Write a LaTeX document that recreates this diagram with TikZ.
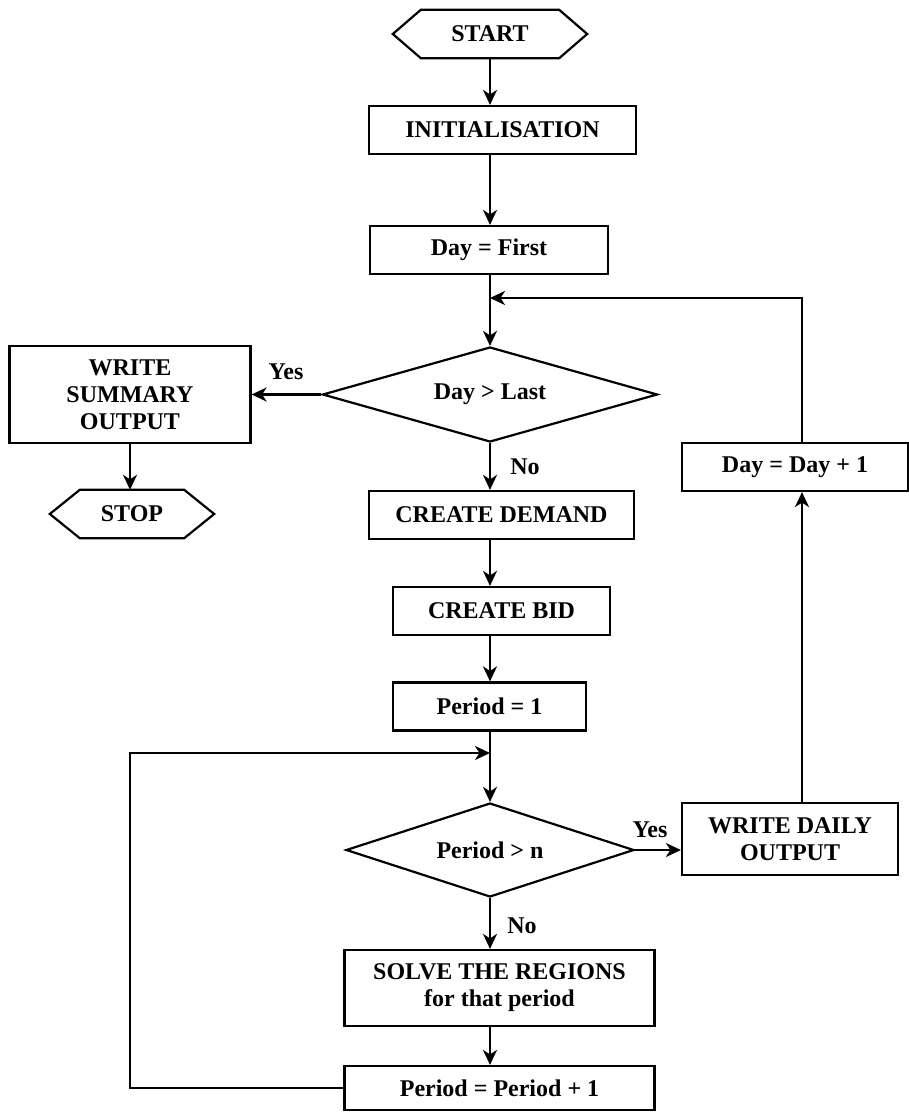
\documentclass[tikz,border=0pt]{standalone}
\usepackage{fontspec}
\setmainfont{Liberation Serif}
\usetikzlibrary{shapes.geometric,arrows.meta}
\tikzset{
  txt/.style={font=\fontsize{24}{27}\selectfont\bfseries, align=center},
  stepbox/.style={txt, draw, line width=2.2pt, rectangle, inner sep=0pt, minimum height=48pt},
  decision/.style={txt, draw, line width=2.2pt, diamond, inner sep=0pt, aspect=3.5},
  hexbase/.style={txt, rectangle, inner sep=0pt, minimum height=48pt},
  hexline/.style={line width=2.2pt, line join=miter},
  conn/.style={line width=2.2pt, -{Stealth[length=15pt,width=14pt,inset=4.5pt]}},
  lbl/.style={txt, inner sep=0pt},
}
\begin{document}
\begin{tikzpicture}[x=1pt,y=-1pt]
\useasboundingbox (0,0) rectangle (909,1112);

% nodes
\node[hexbase, minimum width=138pt] (start) at (490,34) {START};
\draw[hexline] (start.north west) -- (start.north east) -- ([xshift=28pt]start.east) -- (start.south east) -- (start.south west) -- ([xshift=-28pt]start.west) -- cycle;

\node[stepbox, minimum width=267pt] (init) at (502.5,130) {INITIALISATION};
\node[stepbox, minimum width=238pt] (dayfirst) at (489,250) {Day = First};
\node[decision, minimum width=335pt, minimum height=95pt] (daylast) at (490,394.5) {Day > Last};
\node[stepbox, minimum width=241pt, minimum height=97pt] (summary) at (130,394.5) {WRITE\\SUMMARY\\OUTPUT};

\node[hexbase, minimum width=104pt] (stop) at (132,514) {STOP};
\draw[hexline] (stop.north west) -- (stop.north east) -- ([xshift=30pt]stop.east) -- (stop.south east) -- (stop.south west) -- ([xshift=-30pt]stop.west) -- cycle;

\node[stepbox, minimum width=265pt] (demand) at (501.5,515) {CREATE DEMAND};
\node[stepbox, minimum width=217pt] (bid) at (501.5,611) {CREATE BID};
\node[stepbox, minimum width=193pt] (period1) at (489.5,706.5) {Period = 1};
\node[decision, minimum width=288pt, minimum height=94pt] (pern) at (490,850) {Period > n};
\node[stepbox, minimum width=216pt, minimum height=72pt] (daily) at (790,839) {WRITE DAILY\\OUTPUT};
\node[stepbox, minimum width=226pt] (dayplus) at (795,467) {Day = Day + 1};
\node[stepbox, minimum width=310pt, minimum height=76pt] (solve) at (499.5,988) {SOLVE THE REGIONS\\for that period};
\node[stepbox, minimum width=310pt, minimum height=44pt] (pplus) at (499.5,1088) {Period = Period + 1};

% labels
\node[lbl] (yes1) at (286,372) {Yes};
\node[lbl] (no1) at (525,467) {No};
\node[lbl] (yes2) at (650,830) {Yes};
\node[lbl] (no2) at (522,926) {No};

% helper coordinates
\coordinate (main) at (490,0);
\coordinate (rx) at (802,298);
\coordinate (mj) at (490,298);
\coordinate (loopx) at (130,753);
\coordinate (lj) at (490,753);

% connectors
\draw[conn] (start.south) -- (start.south |- init.north);
\draw[conn] (main |- init.south) -- (main |- dayfirst.north);
\draw[conn] (main |- dayfirst.south) -- (main |- daylast.north);
\draw[conn] (daylast.west) -- (summary.east);
\draw[conn] (summary.south) -- (summary.south |- stop.north);
\draw[conn] (daylast.south) -- (main |- demand.north);
\draw[conn] (main |- demand.south) -- (main |- bid.north);
\draw[conn] (main |- bid.south) -- (main |- period1.north);
\draw[conn] (main |- period1.south) -- (pern.north);
\draw[conn] (pern.east) -- (pern.east -| daily.west);
\draw[conn] (pern.south) -- (main |- solve.north);
\draw[conn] (main |- solve.south) -- (main |- pplus.north);
\draw[conn] (pplus.west) -| (loopx) -- (lj);
\draw[conn] (rx |- daily.north) -- (rx |- dayplus.south);
\draw[conn] (rx |- dayplus.north) -- (rx) -- (mj);
\end{tikzpicture}
\end{document}
